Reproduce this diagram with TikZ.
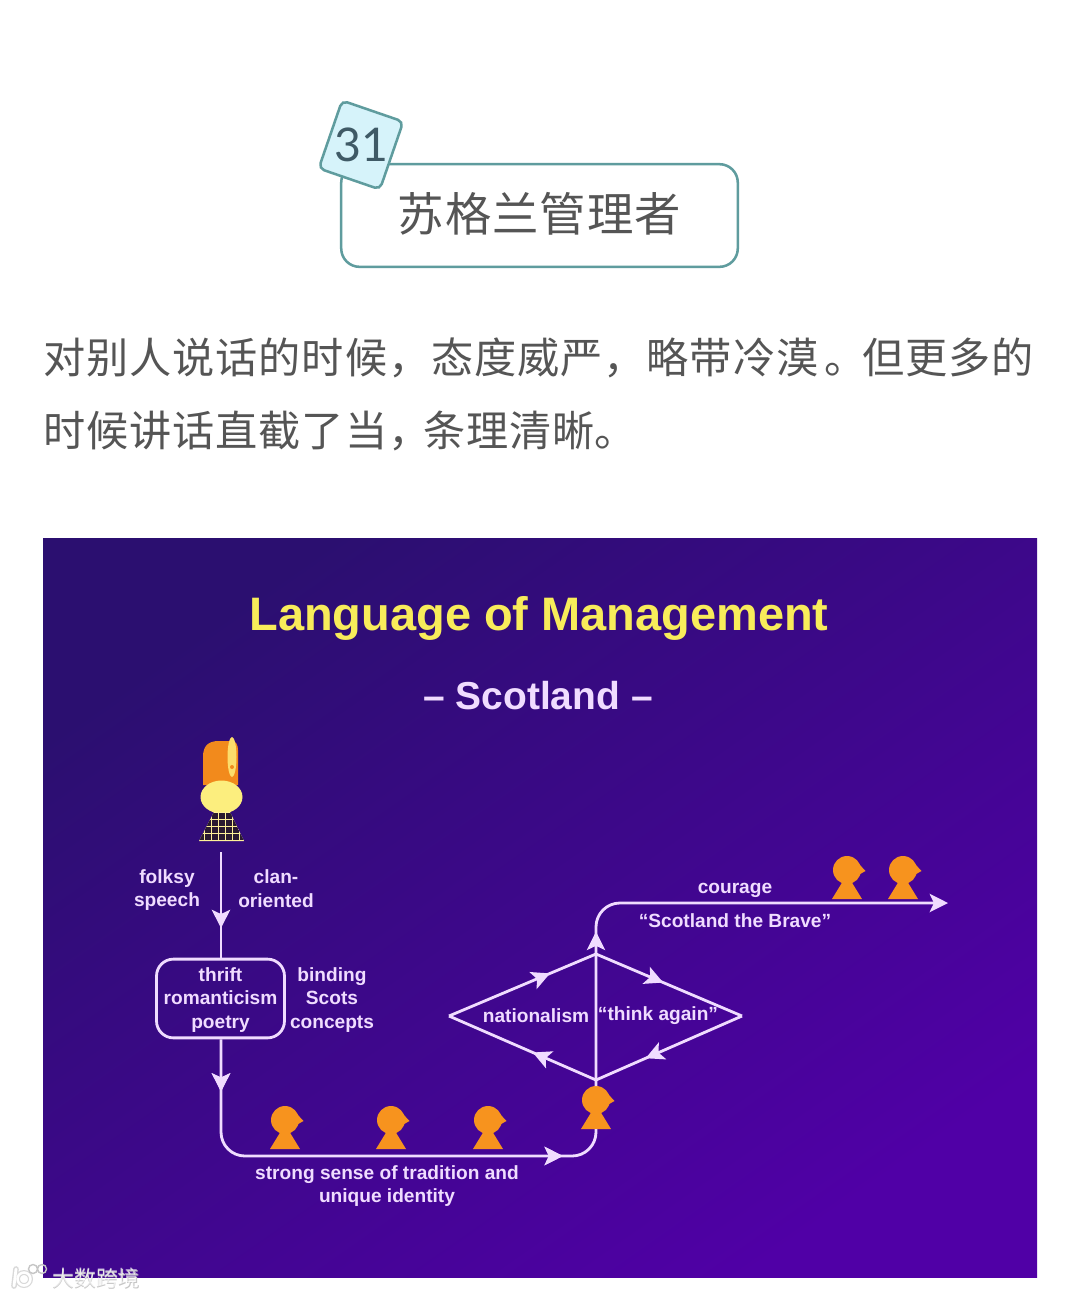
\documentclass[tikz,border=0pt]{standalone}
\usepackage{fontspec}
\setmainfont{Liberation Sans}
\newfontfamily\cjk{Noto Sans CJK SC}
\newfontfamily\cjkwide[LetterSpace=2.2]{Noto Sans CJK SC}
\newfontfamily\cjktitle[LetterSpace=2]{Noto Sans CJK SC}
\newfontfamily\tagfont{Lato}
\usetikzlibrary{positioning, arrows.meta, decorations.markings}

\definecolor{tealline}{HTML}{5F9C9E}
\definecolor{tagfill}{HTML}{D6F3FA}
\definecolor{inkgrey}{HTML}{555555}
\definecolor{tagink}{HTML}{3F5A66}
\definecolor{slidedark}{HTML}{2B0F70}
\definecolor{slidebright}{HTML}{5000A6}
\definecolor{lilac}{HTML}{F0DCFF}
\definecolor{titleyellow}{HTML}{F8EC5A}
\definecolor{figorange}{HTML}{F7931E}
\definecolor{hatorange}{HTML}{F28A1C}
\definecolor{faceyellow}{HTML}{FCEE7E}
\definecolor{tartandark}{HTML}{2A1A30}

\begin{document}
\begin{tikzpicture}[
    x=0.025cm, y=-0.025cm,
    flow/.style={draw=lilac, line width=2pt},
    midhead/.style={postaction={decorate}, decoration={markings,
        mark=at position #1 with {\arrow[lilac]{Stealth[length=13pt, width=13pt, inset=3pt]}}}},
    endhead/.style={-{Stealth[length=13pt, width=13pt, inset=3pt]}},
    label/.style={font=\fontsize{13.6}{16.7}\selectfont\bfseries, text=lilac, align=center, inner sep=0pt},
    person/.pic={
        \fill[figorange] (-15,29) -- (-4,11) -- (4,11) -- (15,29) -- cycle;
        \fill[figorange] (0,0) circle (14);
        \fill[figorange] (6,-12.5) -- (18.5,1) -- (6,8) -- cycle;
    }
]
    \useasboundingbox (0,0) rectangle (1080,1298);
    \fill[white] (0,0) rectangle (1080,1298);

    % Heading
    \node[draw=tealline, line width=1.8pt, fill=white, rounded corners=13pt, minimum width=282pt,
          minimum height=73pt, inner sep=0pt] (heading) at (539.5,215.5) {};
    \node[font=\cjktitle\fontsize{33}{36}\selectfont, text=inkgrey, inner sep=0pt] (headingtext) at (539.5,213.5) {苏格兰管理者};
    \node[draw=tealline, line width=1.8pt, fill=tagfill, rounded corners=4pt, minimum width=46pt,
          minimum height=51pt, inner sep=0pt, rotate=-19] (tag) at (361,145) {};
    \node[font=\tagfont\fontsize{33}{35}\selectfont, text=tagink, inner sep=0pt] (tagnum) at (361,145) {31};

    % Paragraph
    \node[anchor=north west, inner sep=0pt, align=left, text=inkgrey,
          font=\cjkwide\fontsize{30}{52}\selectfont] (intro) at (43,337.5)
          {对别人说话的时候，态度威严，略带冷漠\kern4.3pt。\kern-3pt但更多的\\时候讲话直截了当，\kern-5pt条理清晰\kern-0.5pt。};

    % Slide
    \shade[top color=slidedark, bottom color=slidebright, shading angle=35] (43,538) rectangle (1037,1277);
    \node[font=\fontsize{33.4}{36}\selectfont\bfseries, text=titleyellow, inner sep=0pt] (slidetitle) at (539,618) {Language of Management};
    \node[font=\fontsize{27.7}{30}\selectfont\bfseries, text=lilac, inner sep=0pt] (slidesub) at (538,696) {– Scotland –};

    % Kilted figure
    \begin{scope}
        \fill[hatorange] (203,785) -- (203,757) .. controls (203,746) and (208,741) .. (219,741) -- (232,741)
            .. controls (236,741) and (238,745) .. (238,750) -- (238,785) -- cycle;
        \fill[faceyellow!85!orange] (232,757) ellipse (4.5 and 20);
        \fill[hatorange] (232,767) circle (2);
        \fill[faceyellow] (221.5,797) ellipse (21 and 16.5);
        \begin{scope}
            \clip (214,812) -- (230,812) -- (244,841) -- (199,841) -- cycle;
            \fill[faceyellow!80!white] (190,810) rectangle (255,845);
            \foreach \gx in {198,205,...,241} {
                \foreach \gy in {813,820,...,834}
                    \fill[tartandark] (\gx,\gy) rectangle ++(5.5,5.5);
            }
        \end{scope}
    \end{scope}
    \coordinate (kiltfoot) at (221,852);

    % Left branch
    \node[flow, rounded corners=12pt, minimum width=91pt, minimum height=56pt, inner sep=0pt]
          (thriftbox) at (220.5,998.5) {};
    \node[label] (thrifttext) at (220.5,1000) {thrift\\romanticism\\poetry};
    \draw[flow, midhead=0.72] (kiltfoot) -- (thriftbox.north -| kiltfoot);
    \node[label] (folksy) at (167,890) {folksy\\speech};
    \node[label] (clan) at (276,888.5) {clan-\\oriented};
    \node[label] (binding) at (332,1000) {binding\\Scots\\concepts};

    % People along the bottom
    \pic (crowdone) at (285,1120) {person};
    \pic (crowdtwo) at (391,1120) {person};
    \pic (crowdthree) at (488,1120) {person};
    \pic (leader) at (596,1100) {person};
    \pic (braveone) at (847,870) {person};
    \pic (bravetwo) at (903,870) {person};

    % Bottom route
    \coordinate (leaderfoot) at (596,1129);
    \coordinate (cornerleft) at (221,1156);
    \coordinate (cornerright) at (596,1156);
    \draw[flow, rounded corners=17pt, midhead=0.105, midhead=0.9]
        (thriftbox.south -| cornerleft) -- (cornerleft) -- (cornerright) -- (leaderfoot);
    \node[label] (tradition) at (387,1186) {strong sense of tradition and\\unique identity};

    % Diamond
    \coordinate (diatop) at (596,954);
    \coordinate (diabottom) at (596,1080);
    \coordinate (dialeft) at (449,1016);
    \coordinate (diaright) at (742,1016);
    \draw[flow, midhead=0.687] (dialeft) -- (diatop);
    \draw[flow, midhead=0.46] (diatop) -- (diaright);
    \draw[flow, midhead=0.66] (diaright) -- (diabottom);
    \draw[flow, midhead=0.43] (diabottom) -- (dialeft);
    \coordinate (leaderhead) at (596,1086);
    \node[label] (nationalism) at (536,1016) {nationalism};
    \node[label] (thinkagain) at (658,1016) {“think again”};

    % Way out
    \coordinate (exitcorner) at (596,903);
    \coordinate (exitend) at (948,903);
    \draw[flow, rounded corners=17pt, endhead, midhead=0.294] (leaderhead) -- (exitcorner) -- (exitend);
    \node[label] (courage) at (735,890) {courage};
    \node[label] (brave) at (735,921) {“Scotland the Brave”};

    % Watermark
    \draw[gray!30, line width=4pt, line cap=round] (16,1269) -- (14,1286);
    \draw[gray!30, line width=3.5pt] (24,1279) circle (6.5);
    \draw[white, line width=2pt, line cap=round] (16,1269) -- (14,1286);
    \draw[white, line width=1.8pt] (24,1279) circle (6.5);
    \draw[gray!45, line width=1pt] (33,1269) circle (4.5) (42,1269) circle (4.5);
    \node[font=\cjk\fontsize{15.6}{17}\selectfont, text=gray!45, inner sep=0pt] (markshadow) at (96.5,1279.5) {大数跨境};
    \node[font=\cjk\fontsize{15.6}{17}\selectfont, text=white, opacity=0.65, inner sep=0pt] (mark) at (96,1278.5) {大数跨境};
\end{tikzpicture}
\end{document}
